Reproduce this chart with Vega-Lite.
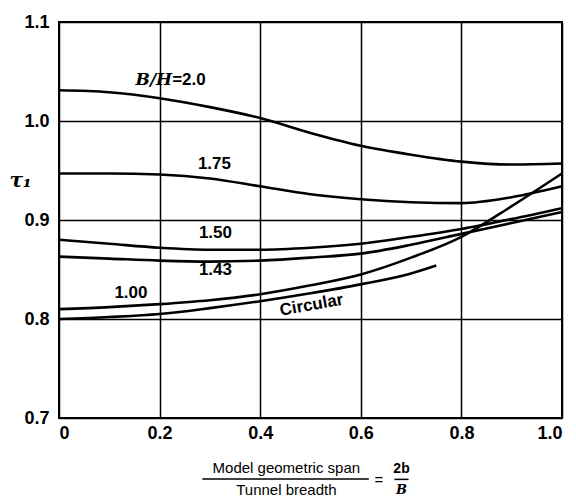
{
  "$schema": "https://vega.github.io/schema/vega-lite/v6.json",
  "width": 503,
  "height": 396,
  "autosize": "none",
  "padding": {"left": 59, "top": 22, "right": 14, "bottom": 81},
  "background": "white",
  "config": {
    "view": {"stroke": "black", "strokeWidth": 2},
    "axis": {
      "grid": true, "gridColor": "black", "gridWidth": 1.5, "gridOpacity": 1,
      "domain": false, "ticks": false,
      "labelFont": "Liberation Sans", "labelFontSize": 18, "labelFontWeight": "bold", "labelColor": "black"
    }
  },
  "datasets": {
    "curves": [
      {"series": "2.0", "x": 0, "y": 1.031}, {"series": "2.0", "x": 0.1, "y": 1.029}, {"series": "2.0", "x": 0.2, "y": 1.023},
      {"series": "2.0", "x": 0.3, "y": 1.014}, {"series": "2.0", "x": 0.4, "y": 1.003}, {"series": "2.0", "x": 0.5, "y": 0.988},
      {"series": "2.0", "x": 0.6, "y": 0.975}, {"series": "2.0", "x": 0.7, "y": 0.966}, {"series": "2.0", "x": 0.8, "y": 0.959},
      {"series": "2.0", "x": 0.9, "y": 0.956}, {"series": "2.0", "x": 1.0, "y": 0.957},
      {"series": "1.75", "x": 0, "y": 0.947}, {"series": "1.75", "x": 0.1, "y": 0.947}, {"series": "1.75", "x": 0.2, "y": 0.946},
      {"series": "1.75", "x": 0.3, "y": 0.942}, {"series": "1.75", "x": 0.4, "y": 0.934}, {"series": "1.75", "x": 0.5, "y": 0.926},
      {"series": "1.75", "x": 0.6, "y": 0.921}, {"series": "1.75", "x": 0.7, "y": 0.918}, {"series": "1.75", "x": 0.8, "y": 0.917},
      {"series": "1.75", "x": 0.9, "y": 0.923}, {"series": "1.75", "x": 1.0, "y": 0.934},
      {"series": "1.50", "x": 0, "y": 0.880}, {"series": "1.50", "x": 0.1, "y": 0.876}, {"series": "1.50", "x": 0.2, "y": 0.872},
      {"series": "1.50", "x": 0.3, "y": 0.870}, {"series": "1.50", "x": 0.4, "y": 0.870}, {"series": "1.50", "x": 0.5, "y": 0.872},
      {"series": "1.50", "x": 0.6, "y": 0.876}, {"series": "1.50", "x": 0.7, "y": 0.883}, {"series": "1.50", "x": 0.8, "y": 0.891},
      {"series": "1.50", "x": 0.9, "y": 0.901}, {"series": "1.50", "x": 1.0, "y": 0.912},
      {"series": "1.43", "x": 0, "y": 0.863}, {"series": "1.43", "x": 0.1, "y": 0.861}, {"series": "1.43", "x": 0.2, "y": 0.859},
      {"series": "1.43", "x": 0.3, "y": 0.858}, {"series": "1.43", "x": 0.4, "y": 0.859}, {"series": "1.43", "x": 0.5, "y": 0.862},
      {"series": "1.43", "x": 0.6, "y": 0.866}, {"series": "1.43", "x": 0.7, "y": 0.875}, {"series": "1.43", "x": 0.8, "y": 0.886},
      {"series": "1.43", "x": 0.9, "y": 0.897}, {"series": "1.43", "x": 1.0, "y": 0.908},
      {"series": "1.00", "x": 0, "y": 0.810}, {"series": "1.00", "x": 0.1, "y": 0.812}, {"series": "1.00", "x": 0.2, "y": 0.815},
      {"series": "1.00", "x": 0.3, "y": 0.819}, {"series": "1.00", "x": 0.4, "y": 0.825}, {"series": "1.00", "x": 0.5, "y": 0.834},
      {"series": "1.00", "x": 0.6, "y": 0.845}, {"series": "1.00", "x": 0.7, "y": 0.862}, {"series": "1.00", "x": 0.8, "y": 0.883},
      {"series": "1.00", "x": 0.9, "y": 0.914}, {"series": "1.00", "x": 1.0, "y": 0.947},
      {"series": "Circular", "x": 0, "y": 0.800}, {"series": "Circular", "x": 0.1, "y": 0.802}, {"series": "Circular", "x": 0.2, "y": 0.805},
      {"series": "Circular", "x": 0.3, "y": 0.811}, {"series": "Circular", "x": 0.4, "y": 0.818}, {"series": "Circular", "x": 0.5, "y": 0.826},
      {"series": "Circular", "x": 0.6, "y": 0.835}, {"series": "Circular", "x": 0.7, "y": 0.846}, {"series": "Circular", "x": 0.75, "y": 0.854}
    ],
    "labels": [
      {"text": "1.75", "x": 0.309, "y": 0.957},
      {"text": "1.50", "x": 0.311, "y": 0.887},
      {"text": "1.43", "x": 0.311, "y": 0.849},
      {"text": "1.00", "x": 0.143, "y": 0.826}
    ],
    "circular": [{"text": "Circular", "x": 0.502, "y": 0.814}],
    "bh_italic": [{"text": "B/H", "x": 0.225, "y": 1.041}],
    "bh_value": [{"text": "=2.0", "x": 0.225, "y": 1.041}],
    "xtitle": [
      {"text": "Model geometric span", "x": 0.452, "y": 0.6495},
      {"text": "Tunnel breadth", "x": 0.452, "y": 0.627},
      {"text": "=", "x": 0.636, "y": 0.637}
    ],
    "xtitle_2b": [{"text": "2b", "x": 0.681, "y": 0.6485}],
    "xtitle_b": [{"text": "B", "x": 0.681, "y": 0.6275}],
    "rules": [
      {"x": 0.285, "x2": 0.616, "y": 0.6384},
      {"x": 0.667, "x2": 0.695, "y": 0.638}
    ]
  },
  "layer": [
    {
      "data": {"name": "curves"},
      "mark": {"type": "line", "color": "black", "strokeWidth": 2.6, "interpolate": "monotone"},
      "encoding": {
        "x": {"field": "x", "type": "quantitative",
              "scale": {"domain": [0, 1], "nice": false, "zero": false},
              "axis": {"values": [0, 0.2, 0.4, 0.6, 0.8, 1.0], "labelExpr": "datum.value == 0 ? '0' : format(datum.value, '.1f')", "labelPadding": 6, "title": null}},
        "y": {"field": "y", "type": "quantitative",
              "scale": {"domain": [0.7, 1.1], "nice": false, "zero": false},
              "axis": {"values": [0.7, 0.8, 0.9, 1.0, 1.1], "format": ".1f", "labelPadding": 10,
                       "title": "τ₁", "titleAngle": 0, "titleX": -39, "titleY": 158, "titleAlign": "center", "titleBaseline": "middle",
                       "titleFont": "DejaVu Serif", "titleFontStyle": "italic", "titleFontWeight": "bold", "titleFontSize": 20, "titleColor": "black"}},
        "detail": {"field": "series"}
      }
    },
    {
      "data": {"name": "labels"},
      "mark": {"type": "text", "font": "Liberation Sans", "fontSize": 17, "fontWeight": "bold", "color": "black", "align": "center", "baseline": "middle"},
      "encoding": {"x": {"field": "x", "type": "quantitative"}, "y": {"field": "y", "type": "quantitative"}, "text": {"field": "text"}}
    },
    {
      "data": {"name": "circular"},
      "mark": {"type": "text", "font": "Liberation Sans", "fontSize": 17, "fontWeight": "bold", "color": "black", "align": "center", "baseline": "middle", "angle": -10},
      "encoding": {"x": {"field": "x", "type": "quantitative"}, "y": {"field": "y", "type": "quantitative"}, "text": {"field": "text"}}
    },
    {
      "data": {"name": "bh_italic"},
      "mark": {"type": "text", "font": "DejaVu Serif", "fontStyle": "italic", "fontWeight": "bold", "fontSize": 17, "color": "black", "align": "right", "baseline": "middle"},
      "encoding": {"x": {"field": "x", "type": "quantitative"}, "y": {"field": "y", "type": "quantitative"}, "text": {"field": "text"}}
    },
    {
      "data": {"name": "bh_value"},
      "mark": {"type": "text", "font": "Liberation Sans", "fontSize": 17, "fontWeight": "bold", "color": "black", "align": "left", "baseline": "middle"},
      "encoding": {"x": {"field": "x", "type": "quantitative"}, "y": {"field": "y", "type": "quantitative"}, "text": {"field": "text"}}
    },
    {
      "data": {"name": "xtitle"},
      "mark": {"type": "text", "font": "Liberation Sans", "fontSize": 15, "color": "black", "align": "center", "baseline": "middle"},
      "encoding": {"x": {"field": "x", "type": "quantitative"}, "y": {"field": "y", "type": "quantitative"}, "text": {"field": "text"}}
    },
    {
      "data": {"name": "xtitle_2b"},
      "mark": {"type": "text", "font": "Liberation Sans", "fontWeight": "bold", "fontSize": 14, "color": "black", "align": "center", "baseline": "middle"},
      "encoding": {"x": {"field": "x", "type": "quantitative"}, "y": {"field": "y", "type": "quantitative"}, "text": {"field": "text"}}
    },
    {
      "data": {"name": "xtitle_b"},
      "mark": {"type": "text", "font": "DejaVu Serif", "fontStyle": "italic", "fontWeight": "bold", "fontSize": 13, "color": "black", "align": "center", "baseline": "middle"},
      "encoding": {"x": {"field": "x", "type": "quantitative"}, "y": {"field": "y", "type": "quantitative"}, "text": {"field": "text"}}
    },
    {
      "data": {"name": "rules"},
      "mark": {"type": "rule", "color": "black", "strokeWidth": 1.5},
      "encoding": {"x": {"field": "x", "type": "quantitative"}, "x2": {"field": "x2"}, "y": {"field": "y", "type": "quantitative"}}
    }
  ]
}
